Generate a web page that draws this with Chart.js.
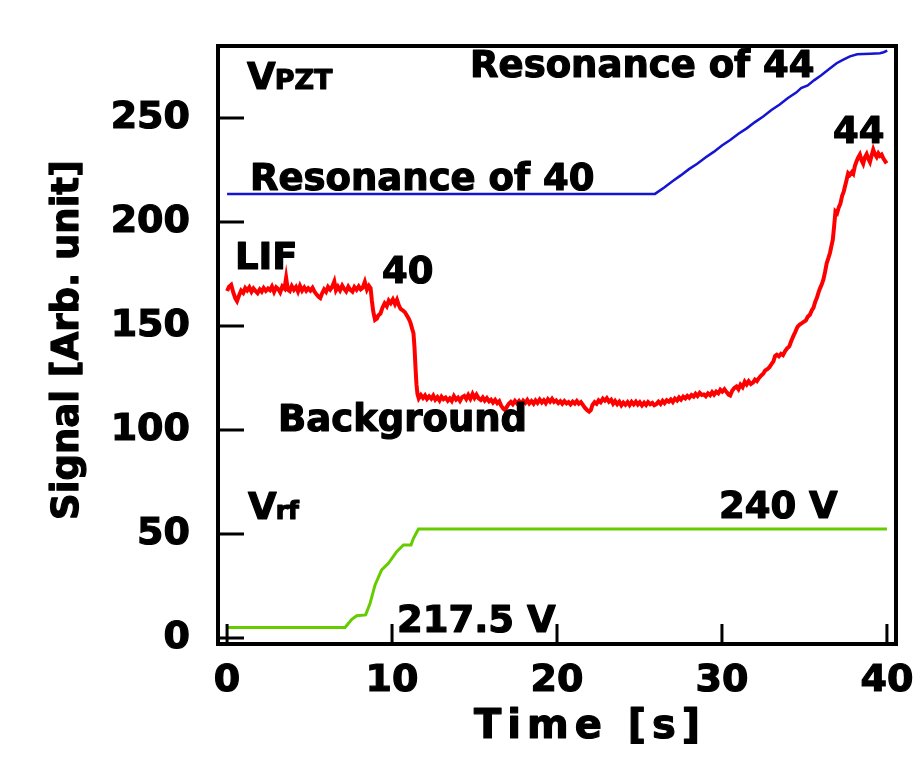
<!DOCTYPE html>
<html>
<head>
<meta charset="utf-8">
<script src="https://cdn.jsdelivr.net/npm/chart.js@4/dist/chart.umd.min.js"></script>
<style>
  html, body { margin: 0; padding: 0; background: #fff; }
  #wrap { width: 924px; height: 767px; }
</style>
</head>
<body>
<div id="wrap"><canvas id="c" width="924" height="767"></canvas></div>
<script>
// Axis ticks
const xTicks = [0, 10, 20, 30, 40];
const yTicks = [0, 50, 100, 150, 200, 250];

// LIF signal (red)
const lifTime = [
  0.00, 0.12, 0.25, 0.38, 0.50, 0.60, 0.72, 0.85, 0.98, 1.10, 1.22, 1.35, 1.48, 1.60, 1.72, 1.85, 1.98,
  2.10, 2.22, 2.35, 2.48, 2.60, 2.72, 2.85, 2.98, 3.10, 3.22, 3.35, 3.48, 3.58, 3.68, 3.80, 3.92,
  4.05, 4.18, 4.30, 4.42, 4.55, 4.68, 4.80, 4.92, 5.05, 5.18, 5.30, 5.42, 5.55, 5.65, 5.75, 5.88,
  6.00, 6.12, 6.25, 6.38, 6.50, 6.60, 6.72, 6.85, 6.98, 7.10, 7.22, 7.35, 7.48, 7.60, 7.72, 7.85,
  7.98, 8.10, 8.22, 8.35, 8.48, 8.60, 8.70, 8.78, 8.86, 8.97, 9.08, 9.18, 9.30, 9.42, 9.55, 9.68,
  9.80, 9.92, 10.05, 10.18, 10.30, 10.42, 10.52, 10.65, 10.78, 10.90, 11.02, 11.12, 11.22, 11.30,
  11.36, 11.42, 11.48, 11.54, 11.62, 11.75, 11.88, 12.00, 12.12, 12.25, 12.38, 12.50, 12.62, 12.75,
  12.88, 13.00, 13.12, 13.25, 13.38, 13.50, 13.62, 13.75, 13.88, 14.00, 14.12, 14.25, 14.38, 14.50,
  14.62, 14.75, 14.88, 15.00, 15.12, 15.25, 15.38, 15.50, 15.62, 15.75, 15.88, 16.00, 16.12, 16.25,
  16.38, 16.50, 16.62, 16.75, 16.85, 16.95, 17.08, 17.20, 17.32, 17.45, 17.58, 17.70, 17.82, 17.95,
  18.08, 18.20, 18.32, 18.45, 18.58, 18.70, 18.82, 18.95, 19.08, 19.20, 19.32, 19.45, 19.58, 19.70,
  19.82, 19.95, 20.08, 20.20, 20.32, 20.45, 20.58, 20.70, 20.82, 20.95, 21.08, 21.20, 21.32, 21.45,
  21.58, 21.70, 21.82, 21.95, 22.05, 22.15, 22.28, 22.40, 22.52, 22.65, 22.78, 22.90, 23.02, 23.15,
  23.28, 23.40, 23.52, 23.65, 23.78, 23.90, 24.02, 24.15, 24.28, 24.40, 24.52, 24.65, 24.78, 24.90,
  25.02, 25.15, 25.28, 25.40, 25.52, 25.65, 25.78, 25.90, 26.02, 26.15, 26.28, 26.40, 26.52, 26.65,
  26.78, 26.90, 27.02, 27.15, 27.28, 27.40, 27.52, 27.65, 27.78, 27.90, 28.02, 28.15, 28.28, 28.40,
  28.52, 28.65, 28.78, 28.90, 29.02, 29.15, 29.28, 29.40, 29.52, 29.65, 29.78, 29.90, 30.02, 30.15,
  30.28, 30.40, 30.50, 30.62, 30.75, 30.88, 31.00, 31.12, 31.25, 31.38, 31.50, 31.62, 31.75, 31.88,
  32.00, 32.12, 32.25, 32.38, 32.50, 32.62, 32.75, 32.88, 33.00, 33.12, 33.22, 33.32, 33.45, 33.58,
  33.70, 33.82, 33.95, 34.08, 34.20, 34.32, 34.45, 34.58, 34.70, 34.82, 34.95, 35.08, 35.20, 35.33,
  35.45, 35.55, 35.65, 35.75, 35.85, 35.95, 36.05, 36.15, 36.25, 36.35, 36.45, 36.55, 36.65, 36.72,
  36.80, 36.88, 36.98, 37.08, 37.18, 37.28, 37.38, 37.46, 37.55, 37.65, 37.75, 37.88, 37.96, 38.06,
  38.16, 38.26, 38.36, 38.46, 38.56, 38.66, 38.77, 38.87, 38.97, 39.07, 39.17, 39.27, 39.38, 39.48,
  39.58, 39.68, 39.78, 39.88, 39.98
];
const lifSignal = [
  166.8, 168.9, 169.8, 166.0, 163.2, 161.9, 164.5, 167.0, 165.9, 168.2, 167.1, 168.6, 166.4, 168.0, 166.9, 165.8, 167.6,
  166.5, 168.3, 166.9, 168.0, 167.2, 169.0, 166.4, 168.6, 167.8, 166.2, 169.0, 168.0, 173.2, 167.5, 166.8, 169.2,
  167.4, 168.8, 166.6, 169.3, 167.0, 168.5, 166.9, 168.1, 167.0, 168.4, 166.5, 165.2, 164.0, 163.4, 165.5, 167.6,
  166.4, 168.8, 167.5, 169.0, 171.4, 167.2, 168.9, 167.1, 169.4, 167.8, 166.6, 168.9, 167.3, 166.5, 168.7, 167.4,
  169.0, 167.6, 168.4, 171.2, 167.5, 169.3, 168.2, 162.0, 157.0, 152.9, 153.5, 155.2, 156.0, 158.8, 160.9, 159.5,
  162.2, 161.0, 162.8, 160.5, 162.6, 159.8, 158.2, 157.5, 156.6, 155.0, 153.4, 151.5, 148.6, 146.5,
  140.0, 130.5, 122.0, 117.4, 115.2, 116.8, 115.4, 116.6, 114.9, 116.2, 115.0, 116.5, 114.6, 115.8,
  114.2, 116.0, 114.8, 115.6, 114.1, 115.2, 113.9, 116.3, 114.6, 115.5, 114.0, 115.8, 116.4, 114.9,
  116.8, 115.0, 117.3, 115.4, 117.0, 115.2, 114.4, 115.6, 114.1, 115.3, 113.8, 114.6, 113.2, 114.5,
  112.9, 113.8, 111.6, 110.2, 109.6, 111.0, 112.6, 113.5, 112.4, 114.0, 112.7, 113.9, 112.5, 114.1,
  113.0, 114.4, 112.8, 113.9, 112.6, 114.2, 113.0, 114.6, 113.2, 114.3, 112.9, 114.8, 113.6, 115.0,
  113.5, 114.2, 112.9, 113.8, 112.6, 113.9, 112.8, 113.4, 112.3, 113.6, 112.7, 113.9, 112.6, 113.4,
  111.9, 110.6, 109.6, 108.8, 109.5, 112.0, 113.4, 112.6, 114.2, 113.3, 115.0, 114.1, 115.3, 113.6,
  114.5, 112.6, 113.9, 112.4, 113.6, 111.9, 113.2, 112.1, 113.4, 112.0, 113.5, 112.3, 113.6, 112.2,
  113.3, 111.8, 113.1, 112.0, 113.4, 112.4, 113.0, 111.9, 112.4, 113.6, 112.5, 114.0, 112.9, 114.3,
  113.6, 114.6, 113.4, 115.1, 114.2, 115.6, 114.6, 116.0, 115.2, 116.4, 115.5, 116.8, 116.0, 117.4,
  116.3, 117.8, 116.8, 117.1, 116.2, 117.6, 116.7, 118.2, 117.0, 118.4, 117.6, 119.3, 118.4, 119.6,
  118.2, 117.0, 116.6, 118.9, 120.2, 120.9, 119.6, 121.8, 120.6, 123.2, 121.9, 123.4, 122.1, 122.8,
  124.2, 123.5, 125.0, 126.2, 127.0, 128.6, 129.2, 130.2, 131.6, 133.0, 135.6, 136.2, 135.4, 136.6,
  136.0, 137.8, 139.2, 140.2, 142.8, 145.0, 147.2, 149.6, 150.6, 151.2, 152.0, 152.6, 154.4, 155.4,
  157.6, 158.8, 161.6, 163.4, 166.0, 168.2, 170.0, 172.4, 176.0, 180.2, 182.6, 185.2, 189.0, 191.5,
  198.0, 205.0, 204.2, 207.0, 208.8, 212.5, 214.6, 217.2, 220.0, 223.4, 222.6, 224.0, 223.2, 227.0,
  229.2, 231.0, 232.4, 229.6, 228.0, 231.0, 232.6, 230.4, 228.8, 232.0, 234.8, 232.6, 231.2, 233.0,
  231.8, 232.4, 230.6, 229.4, 228.2
];

// Piezo voltage (blue)
const pztTime = [0, 25.94, 26.5, 27.0, 27.5, 28.0, 28.5, 29.0, 29.5, 30.0, 30.5, 31.0, 31.5, 32.0, 32.5, 33.0,
  33.5, 34.0, 34.5, 34.8, 35.2, 35.6, 36.0, 36.5, 36.95, 37.3, 37.76, 38.2, 38.56, 39.0, 39.58, 39.8, 40.02];
const pztSignal = [213.5, 213.5, 216.6, 219.6, 222.4, 225.4, 228.0, 231.0, 233.7, 236.8, 239.4, 242.4, 245.0, 248.0, 250.7, 253.8,
  256.5, 259.6, 262.2, 264.4, 265.6, 268.2, 270.4, 273.5, 276.3, 277.8, 279.6, 280.6, 280.8, 280.9, 281.1, 281.6, 282.4];

// RF voltage (green)
const rfTime = [0, 7.15, 7.56, 7.86, 8.4, 8.67, 8.97, 9.37, 9.78, 10.28, 10.69, 11.15, 11.3, 11.6, 40.0];
const rfSignal = [5.0, 5.0, 9.0, 10.7, 11.1, 16.7, 25.5, 32.7, 35.9, 41.5, 44.7, 44.7, 47.9, 52.4, 52.4];

const pairs = (xs, ys) => xs.map((x, i) => ({ x, y: ys[i] }));

const FONT = 'DejaVu Sans';
const STROKE = 1.2;

// Text labels placed in data coordinates: [text, x, y, size]
const notes = [
  ['Resonance of 44', 14.73, 269.7, 37],
  ['Resonance of 40', 1.39, 215.4, 37],
  ['44', 36.73, 238.0, 37],
  ['LIF', 0.48, 177.4, 37],
  ['40', 9.39, 170.7, 37],
  ['Background', 3.09, 99.5, 37],
  ['217.5 V', 10.3, 2.9, 37],
  ['240 V', 29.82, 57.7, 37]
];
// Main letter with smaller suffix: [main, suffix, x, y, suffix size]
const subLabels = [
  ['V', 'PZT', 1.21, 263.9, 27],
  ['V', 'rf', 1.27, 57.2, 25]
];

function boldText(ctx, t, px, py) {
  ctx.strokeText(t, px, py);
  ctx.fillText(t, px, py);
}

const frameAndText = {
  id: 'frameAndText',
  afterDraw(chart) {
    const { ctx, chartArea: a, scales: { x, y } } = chart;
    ctx.save();
    ctx.strokeStyle = '#000';
    ctx.lineCap = 'butt';
    // inward tick marks
    ctx.lineWidth = 3;
    ctx.beginPath();
    yTicks.forEach(v => {
      const py = y.getPixelForValue(v);
      ctx.moveTo(a.left, py); ctx.lineTo(a.left + 26, py);
    });
    xTicks.forEach(v => {
      const px = x.getPixelForValue(v);
      ctx.moveTo(px, a.bottom); ctx.lineTo(px, a.bottom - 20);
    });
    ctx.stroke();
    // frame
    ctx.lineWidth = 4;
    ctx.strokeRect(a.left, a.top, a.right - a.left, a.bottom - a.top);

    // annotations
    ctx.fillStyle = '#000';
    ctx.lineWidth = STROKE;
    ctx.lineJoin = 'round';
    ctx.textAlign = 'left';
    ctx.textBaseline = 'alphabetic';
    notes.forEach(([t, vx, vy, s]) => {
      ctx.font = `bold ${s}px "${FONT}"`;
      boldText(ctx, t, x.getPixelForValue(vx), y.getPixelForValue(vy));
    });
    subLabels.forEach(([main, sub, vx, vy, s]) => {
      const px = x.getPixelForValue(vx), py = y.getPixelForValue(vy);
      ctx.font = `bold 37px "${FONT}"`;
      boldText(ctx, main, px, py);
      const w = ctx.measureText(main).width;
      ctx.font = `bold ${s}px "${FONT}"`;
      boldText(ctx, sub, px + w - 1, py);
    });

    // axis titles
    ctx.font = `bold 40px "${FONT}"`;
    ctx.letterSpacing = '6px';
    boldText(ctx, 'Time [s]', 474, 738);
    ctx.letterSpacing = '0px';
    ctx.font = `bold 37px "${FONT}"`;
    ctx.translate(78, 340);
    ctx.rotate(-Math.PI / 2);
    ctx.textAlign = 'center';
    boldText(ctx, 'Signal [Arb. unit]', 0, 0);
    ctx.restore();
  }
};

const tickFont = { family: FONT, weight: 'bold', size: 38 };

new Chart(document.getElementById('c'), {
  type: 'line',
  data: {
    datasets: [
      { label: 'LIF', data: pairs(lifTime, lifSignal), borderColor: 'rgb(255,0,0)', borderWidth: 4,
        pointRadius: 0, tension: 0, fill: false },
      { label: 'VPZT', data: pairs(pztTime, pztSignal), borderColor: 'rgb(20,20,210)', borderWidth: 2.5,
        pointRadius: 0, tension: 0, fill: false },
      { label: 'Vrf', data: pairs(rfTime, rfSignal), borderColor: 'rgb(102,204,0)', borderWidth: 3,
        pointRadius: 0, tension: 0, fill: false }
    ]
  },
  options: {
    responsive: false,
    animation: false,
    events: [],
    layout: { padding: { top: 46, right: 28, left: 0, bottom: 0 } },
    plugins: { legend: { display: false }, tooltip: { enabled: false } },
    scales: {
      x: {
        type: 'linear', min: -0.55, max: 40.55,
        grid: { display: false, drawTicks: false },
        border: { display: false },
        afterBuildTicks: s => { s.ticks = xTicks.map(v => ({ value: v })); },
        afterFit: s => { s.height = 123; s.paddingLeft = 0; s.paddingRight = 0; },
        ticks: { padding: 14, color: '#000', font: tickFont, maxRotation: 0, autoSkip: false,
          textStrokeColor: '#000', textStrokeWidth: STROKE }
      },
      y: {
        type: 'linear', min: -2.9, max: 284.6,
        grid: { display: false, drawTicks: false },
        border: { display: false },
        afterBuildTicks: s => { s.ticks = yTicks.map(v => ({ value: v })); },
        afterFit: s => { s.width = 218; s.paddingTop = 0; s.paddingBottom = 0; },
        ticks: { padding: 28, color: '#000', font: tickFont, autoSkip: false,
          textStrokeColor: '#000', textStrokeWidth: STROKE }
      }
    }
  },
  plugins: [frameAndText]
});
</script>
</body>
</html>
